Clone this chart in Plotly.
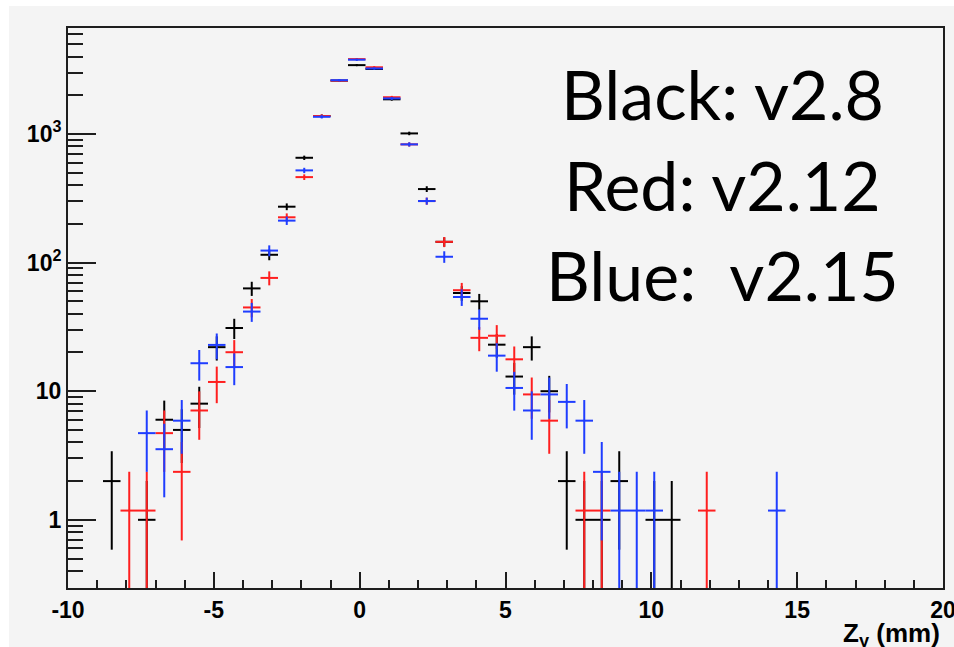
import math
import plotly.graph_objects as go

# ---------------- data ----------------
BIN_HALF_WIDTH = 0.3  # histogram bins of 0.6 mm from -10 to 20

black_z = [-8.5, -7.3, -6.7, -6.1, -5.5, -4.9, -4.3, -3.7, -3.1, -2.5, -1.9, -1.3, -0.7,
           -0.1, 0.5, 1.1, 1.7, 2.3, 2.9, 3.5, 4.1, 4.7, 5.3, 5.9, 6.5, 7.1, 7.7, 8.3,
           8.9, 10.1, 10.7]
black_v = [2, 1, 6, 5, 8, 22, 31, 63, 115, 272, 653, 1380, 2600,
           3430, 3200, 1860, 1010, 373, 145, 58, 50, 23, 13, 22, 10, 2, 1, 1,
           2, 1, 1]
black_scale = 1.0

red_z = [-7.9, -7.3, -6.7, -6.1, -5.5, -4.9, -4.3, -3.7, -3.1, -2.5, -1.9, -1.3, -0.7,
         -0.1, 0.5, 1.1, 1.7, 2.3, 2.9, 3.5, 4.1, 4.7, 5.3, 5.9, 6.5, 7.7, 8.3, 11.9]
red_v = [1.18, 1.18, 4.72, 2.36, 7.08, 11.8, 20.1, 44.8, 76, 225, 462, 1380, 2600,
         3820, 3300, 1930, 830, 301, 145, 61, 26, 27, 17.7, 9.44, 5.9, 1.18, 1.18, 1.18]
red_scale = 1.18

blue_z = [-7.3, -6.7, -6.1, -5.5, -4.9, -4.3, -3.7, -3.1, -2.5, -1.9, -1.3, -0.7,
          -0.1, 0.5, 1.1, 1.7, 2.3, 2.9, 3.5, 4.1, 4.7, 5.3, 5.9, 6.5, 7.1, 7.7, 8.3,
          8.9, 9.5, 10.1, 14.3]
blue_v = [4.72, 3.54, 5.9, 16.5, 22.9, 15.4, 41.6, 124, 212, 521, 1360, 2620,
          3780, 3230, 1890, 830, 301, 111, 54, 36.6, 18.9, 10.6, 7.08, 9.44, 8.26, 5.9, 2.36,
          1.18, 1.18, 1.18, 1.18]
blue_scale = 1.18

x_tickvals = [-10, -5, 0, 5, 10, 15, 20]
x_ticktext = ["-10", "-5", "0", "5", "10", "15", "20"]
y_tickvals = [1, 10, 100, 1000]
y_ticktext = ["1", "10", "10<sup>2</sup>", "10<sup>3</sup>"]

labels = ["Black: v2.8", "Red: v2.12", "Blue:\u00a0 v2.15"]

# ---------------- figure ----------------
BG = "#f4f4f4"
AX = "#1e1e1e"

def hist_trace(z, v, scale, color, name):
    err = [math.sqrt(val * scale) for val in v]  # Poisson error of a scaled histogram
    return go.Scatter(
        x=z, y=v, mode="markers", name=name,
        marker=dict(color=color, size=2),
        error_x=dict(type="constant", value=BIN_HALF_WIDTH, color=color, thickness=2, width=0),
        error_y=dict(type="data", array=err, symmetric=True, color=color, thickness=2, width=0),
        showlegend=False,
    )

fig = go.Figure()
fig.add_trace(hist_trace(black_z, black_v, black_scale, "#000000", "v2.8"))
fig.add_trace(hist_trace(red_z, red_v, red_scale, "#ff1f1f", "v2.12"))
fig.add_trace(hist_trace(blue_z, blue_v, blue_scale, "#1f3dff", "v2.15"))

L, R, T, B = 68, 11, 28, 59
W, H = 954, 647
pw, ph = W - L - R, H - T - B

def px_x(p):
    return (p - L) / pw

def px_y(p):
    return (H - B - p) / ph

tickfont = dict(family="Liberation Sans, Arial", size=23, color="#000", weight="bold")

fig.update_layout(
    width=W, height=H, autosize=False,
    margin=dict(l=L, r=R, t=T, b=B, pad=0),
    paper_bgcolor="white", plot_bgcolor=BG,
    xaxis=dict(
        range=[-10, 20], tickmode="array", tickvals=x_tickvals, ticktext=x_ticktext,
        ticks="inside", ticklen=16, tickwidth=2, tickcolor=AX,
        minor=dict(dtick=1, ticks="inside", ticklen=8, tickwidth=2, tickcolor=AX),
        showgrid=False, zeroline=False, showline=True, linecolor=AX, linewidth=2, mirror=True,
        tickfont=tickfont, automargin=False, ticklabeloverflow="allow",
    ),
    yaxis=dict(
        type="log", range=[math.log10(0.295), 3.824],
        tickmode="array", tickvals=y_tickvals, ticktext=y_ticktext,
        ticks="inside", ticklen=28, tickwidth=2, tickcolor=AX,
        minor=dict(dtick="D1", ticks="inside", ticklen=15, tickwidth=2, tickcolor=AX),
        showgrid=False, zeroline=False, showline=True, linecolor=AX, linewidth=2, mirror=True,
        tickfont=tickfont, automargin=False, ticklabeloverflow="allow",
    ),
    shapes=[dict(type="rect", xref="paper", yref="paper", layer="below",
                 x0=px_x(9), x1=px_x(W + 5), y0=px_y(H + 5), y1=px_y(6),
                 fillcolor=BG, line=dict(width=0))],
)

# big version labels
for text, ymid in zip(labels, [93.0, 184.5, 274.5]):
    fig.add_annotation(
        text=text, xref="paper", yref="paper", x=px_x(722), y=px_y(ymid),
        xanchor="center", yanchor="middle", showarrow=False,
        font=dict(family="Lato", size=68, color="#000"),
    )

# axis title
fig.add_annotation(
    text="Z<sub>y</sub> (mm)", xref="paper", yref="paper", x=px_x(942), y=px_y(634),
    xanchor="right", yanchor="middle", showarrow=False,
    font=dict(family="Liberation Sans, Arial", size=26, color="#000", weight="bold"),
)

fig.write_html(
    "out.html",
    config={"displayModeBar": False},
    post_script="document.body.style.margin='0px';document.body.style.overflow='hidden';",
)
